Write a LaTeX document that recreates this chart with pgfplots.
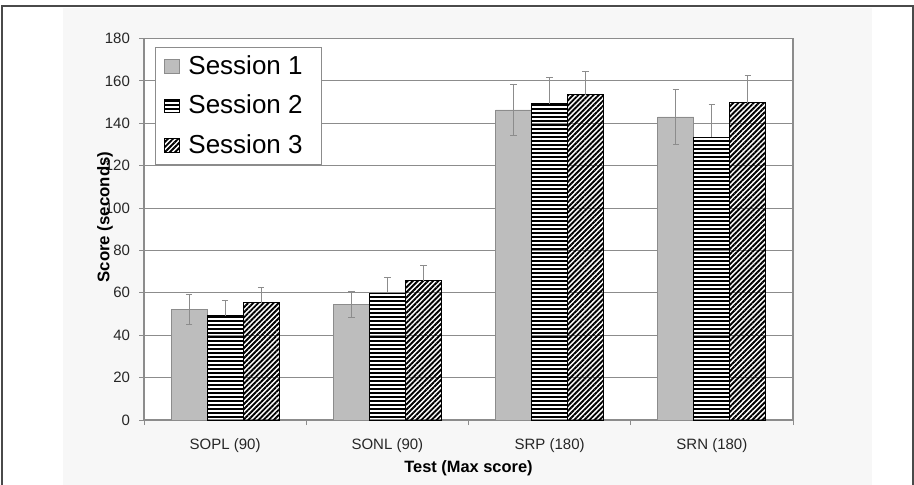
\documentclass[border=0pt]{standalone}
\usepackage{fontspec}
\setmainfont{Liberation Sans}
\usepackage{pgfplots}
\pgfplotsset{compat=1.18}
\usetikzlibrary{patterns.meta}
\definecolor{framecol}{HTML}{4A4A4A}
\definecolor{axcol}{HTML}{8C8C8C}
\definecolor{s1fill}{HTML}{BDBDBD}
\begin{document}
\begin{tikzpicture}
\useasboundingbox (0pt,0pt) rectangle (457pt,-242.5pt);
\fill[white] (0pt,0pt) rectangle (457pt,-242.5pt);
\fill[black!3] (31.5pt,-4pt) rectangle (436pt,-242.5pt);
\draw[framecol, line width=1pt] (1pt,-242.5pt) -- (1pt,-3pt) -- (456.5pt,-3pt) -- (456.5pt,-242.5pt);
\begin{axis}[
  at={(72pt,-210pt)}, anchor=south west,
  scale only axis, width=324.5pt, height=190.75pt,
  ybar=0pt, bar width=18pt,
  xmin=-0.5, xmax=3.5, ymin=0, ymax=180,
  ytick={0,20,...,180},
  xtick={0,1,2,3},
  xticklabels={SOPL (90), SONL (90), SRP (180), SRN (180)},
  minor xtick={-0.5,0.5,1.5,2.5,3.5},
  major x tick style={draw=none},
  major tick length=2.5pt, minor tick length=2.5pt,
  tick align=outside, tick pos=left,
  axis line style={axcol, line width=0.6pt},
  ymajorgrids, grid style={axcol, line width=0.5pt},
  every tick/.style={axcol, line width=0.5pt},
  axis background/.style={fill=white},
  /pgf/number format/assume math mode=true,
  ticklabel style={font=\fontsize{7.5}{9}\selectfont, text=black!85},
  xticklabel style={yshift=-3.4pt},
  yticklabel style={xshift=-1pt},
  xlabel={Test (Max score)},
  ylabel={Score (seconds)},
  xlabel style={font=\fontsize{8.2}{10}\selectfont\bfseries, at={(axis description cs:0.5,0)}, anchor=center, yshift=-24pt},
  ylabel style={font=\fontsize{8.4}{10}\selectfont\bfseries, at={(axis description cs:-0.0601,0.532)}, anchor=center},
  legend cell align=left,
  legend style={at={(0.017,0.978)}, anchor=north west, draw=axcol, line width=0.6pt,
    font=\fontsize{13}{15}\selectfont, row sep=5.8pt, inner xsep=4pt, inner ysep=2.5pt,
    nodes={inner ysep=1.5pt, inner xsep=3pt},
    /tikz/every odd column/.append style={column sep=1.5pt},
    /tikz/every even column/.append style={column sep=0pt}},
  myleg/.style={legend image code/.code={\draw[##1, line width=0.4pt] (0pt,-3.4pt) rectangle (7.5pt,3.4pt);}},
  error bars/error bar style={axcol, line width=0.5pt},
  error bars/error mark options={rotate=90, mark size=1.6pt, line width=0.5pt, axcol},
]
\addplot[myleg, fill=s1fill, draw=black!45, line width=0.4pt,
  error bars/.cd, y dir=both, y explicit]
  coordinates {(0,52.2) +- (0,7) (1,54.5) +- (0,6.3) (2,146.3) +- (0,12) (3,143) +- (0,13)};
\addplot[myleg, draw=black, line width=0.5pt, pattern={Lines[angle=0, distance=2pt, line width=1.2pt]}, pattern color=black,
  error bars/.cd, y dir=plus, y explicit]
  coordinates {(0,49.2) +- (0,7) (1,59.8) +- (0,7.2) (2,149.2) +- (0,12.6) (3,133.5) +- (0,15.3)};
\addplot[myleg, draw=black, line width=0.5pt, pattern={Lines[angle=45, distance=1.8pt, line width=0.95pt]}, pattern color=black,
  error bars/.cd, y dir=plus, y explicit]
  coordinates {(0,55.3) +- (0,7.2) (1,65.6) +- (0,7.4) (2,153.5) +- (0,11) (3,149.7) +- (0,13)};
\legend{Session 1\hspace*{2.5pt}, Session 2\hspace*{2.5pt}, Session 3\hspace*{2.5pt}}
\end{axis}
\end{tikzpicture}
\end{document}
